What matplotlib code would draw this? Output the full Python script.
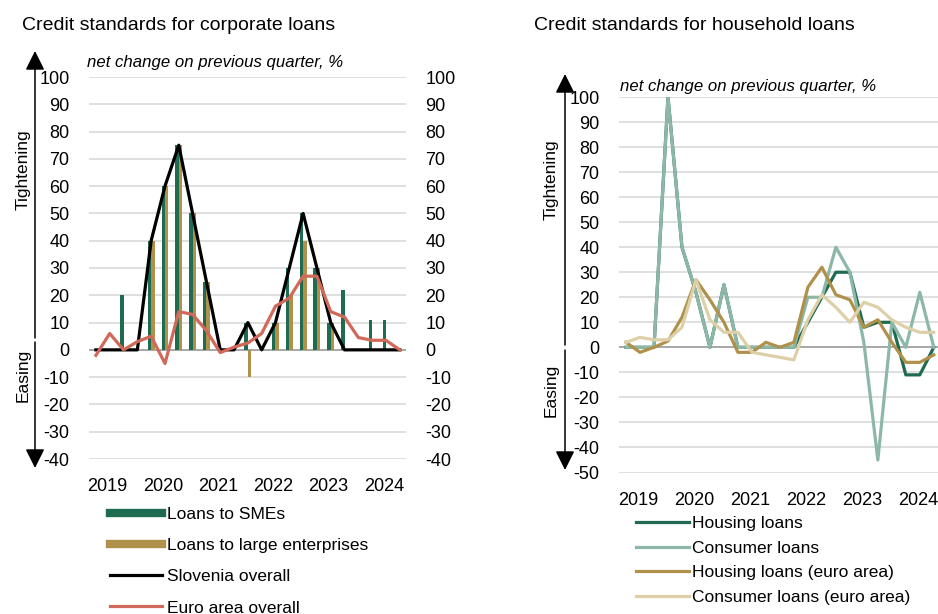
import numpy as np
import matplotlib
matplotlib.use('Agg')
import matplotlib.pyplot as plt
from matplotlib.patches import FancyArrowPatch
from matplotlib.lines import Line2D

plt.rcParams['font.family'] = ['Liberation Sans', 'DejaVu Sans']
plt.rcParams['axes.unicode_minus'] = False

# quarterly data, 2019Q1 - 2024Q3
years = ['2019', '2020', '2021', '2022', '2023', '2024']

# corporate loans
smes = [0, 0, 20, 0, 40, 60, 75, 50, 25, 0, 0, 10, 0, 10, 30, 50, 30, 10, 22, 0, 11, 11, 0]
large = [0, 0, 0, 0, 40, 60, 75, 50, 25, 0, 0, -10, 0, 10, 20, 40, 30, 10, 0, 0, 0, 0, 0]
slovenia = [0, 0, 0, 0, 40, 60, 75, 50, 25, 0, 0, 10, 0, 10, 30, 50, 30, 10, 0, 0, 0, 0, 0]
euro_area = [-2, 6, 0, 3, 5, -5, 14, 13, 7, -1, 1, 2.5, 6, 16, 19, 27, 27, 14, 12, 4.5, 3.5, 3.5, 0]

# household loans
housing = [0, 0, 0, 100, 40, 22, 0, 25, 0, 0, 0, 0, 0, 10, 20, 30, 30, 8, 10, 10, -11, -11, 0]
consumer = [0, 0, 0, 100, 40, 22, 0, 25, 0, 0, 0, 0, 0, 20, 20, 40, 30, 2, -45, 10, 0, 22, 0]
housing_ea = [2, -2, 0, 2.5, 12, 27, 19, 10, -2, -2, 2, 0, 2, 24, 32, 21, 19, 8, 11, 2, -6, -6, -3]
consumer_ea = [2, 4, 3, 3, 8, 27, 11, 6, 6, -2, -3, -4, -5, 11, 21, 16, 10, 18, 16, 11, 8, 6, 6]

GREEN = '#1e6b4f'
TAN = '#b0914b'
RED = '#d0695a'
TEAL = '#8db7a7'
BEIGE = '#ddd0a8'
GRID = '#d6d6d6'
ZERO = '#a8a8a8'
TICK_FS = 13
FS = 12.5

W, H = 938, 614


def fx(px):
    return px / W


def fy(py):
    return 1 - py / H


fig = plt.figure(figsize=(W / 100, H / 100), dpi=100)

x = np.arange(len(slovenia))
year_pos = [4 * i + 0.85 for i in range(len(years))]


def style_axes(ax, ylo, yhi):
    ax.set_ylim(ylo, yhi)
    ax.set_yticks(range(ylo, yhi + 1, 10))
    ax.set_xticks(year_pos)
    ax.set_xticklabels(years)
    ax.grid(axis='y', color=GRID, lw=1.1)
    ax.set_axisbelow(True)
    ax.axhline(0, color=ZERO, lw=1.4, zorder=1.5)
    ax.tick_params(length=0, labelsize=TICK_FS)
    ax.tick_params(axis='y', pad=14)
    ax.tick_params(axis='x', pad=14)
    for s in ax.spines.values():
        s.set_visible(False)


def add_arrows(xp, top, mid_up, mid_down, bottom):
    for a, b in [(mid_up, top), (mid_down, bottom)]:
        arr = FancyArrowPatch((fx(xp), fy(a)), (fx(xp), fy(b)), transform=fig.transFigure,
                              arrowstyle='-|>,head_length=0.9,head_width=0.45',
                              mutation_scale=13, lw=1.1, color='black', shrinkA=0, shrinkB=0)
        fig.add_artist(arr)


# ---- left chart ----
ax1 = fig.add_axes([fx(89), fy(459), (406 - 89) / W, (459 - 77) / H])
ax1.bar(x - 0.125, smes, width=0.25, color=GREEN, zorder=2)
ax1.bar(x + 0.125, large, width=0.25, color=TAN, zorder=2)
ax1.plot(x, slovenia, color='black', lw=2.3, zorder=3)
ax1.plot(x, euro_area, color=RED, lw=2.3, zorder=3)
ax1.set_xlim(-0.5, 22.45)
style_axes(ax1, -40, 100)

ax1b = ax1.twinx()
ax1b.set_ylim(-40, 100)
ax1b.set_yticks(range(-40, 101, 10))
ax1b.tick_params(length=0, labelsize=TICK_FS, pad=14)
for s in ax1b.spines.values():
    s.set_visible(False)

fig.text(fx(22), fy(25), 'Credit standards for corporate loans', fontsize=14, va='center')
fig.text(fx(87), fy(62), 'net change on previous quarter, %', fontsize=12.1, style='italic', va='center')
add_arrows(35, 51, 338, 342, 468)
fig.text(fx(23), fy(170), 'Tightening', rotation=90, fontsize=FS, ha='center', va='center')
fig.text(fx(23), fy(375), 'Easing', rotation=90, fontsize=FS, ha='center', va='center')

h1 = [Line2D([], [], color=GREEN, lw=6), Line2D([], [], color=TAN, lw=6),
      Line2D([], [], color='black', lw=2.3), Line2D([], [], color=RED, lw=2.3)]
fig.legend(h1, ['Loans to SMEs', 'Loans to large enterprises', 'Slovenia overall', 'Euro area overall'],
           loc='upper left', bbox_to_anchor=(fx(110), fy(507)), frameon=False, fontsize=FS,
           handlelength=3.0, handletextpad=0.3, labelspacing=0.92, borderpad=0, borderaxespad=0)

# ---- right chart ----
ax2 = fig.add_axes([fx(619), fy(472.5), (938 - 619) / W, (472.5 - 97) / H])
ax2.plot(x, housing, color=GREEN, lw=2.3, zorder=3)
ax2.plot(x, consumer, color=TEAL, lw=2.3, zorder=3)
ax2.plot(x, housing_ea, color=TAN, lw=2.3, zorder=3)
ax2.plot(x, consumer_ea, color=BEIGE, lw=2.3, zorder=3)
ax2.set_xlim(-0.5, 22.3)
style_axes(ax2, -50, 100)

fig.text(fx(534), fy(25), 'Credit standards for household loans', fontsize=14, va='center')
fig.text(fx(620), fy(86), 'net change on previous quarter, %', fontsize=12.1, style='italic', va='center')
add_arrows(565, 74, 345, 350, 470)
fig.text(fx(551), fy(180), 'Tightening', rotation=90, fontsize=FS, ha='center', va='center')
fig.text(fx(551), fy(390), 'Easing', rotation=90, fontsize=FS, ha='center', va='center')

h2 = [Line2D([], [], color=c, lw=2.3) for c in [GREEN, TEAL, TAN, BEIGE]]
fig.legend(h2, ['Housing loans', 'Consumer loans', 'Housing loans (euro area)', 'Consumer loans (euro area)'],
           loc='upper left', bbox_to_anchor=(fx(636), fy(516)), frameon=False, fontsize=FS,
           handlelength=3.05, handletextpad=0.2, labelspacing=0.54, borderpad=0, borderaxespad=0)

fig.savefig('out.png', dpi=100)
